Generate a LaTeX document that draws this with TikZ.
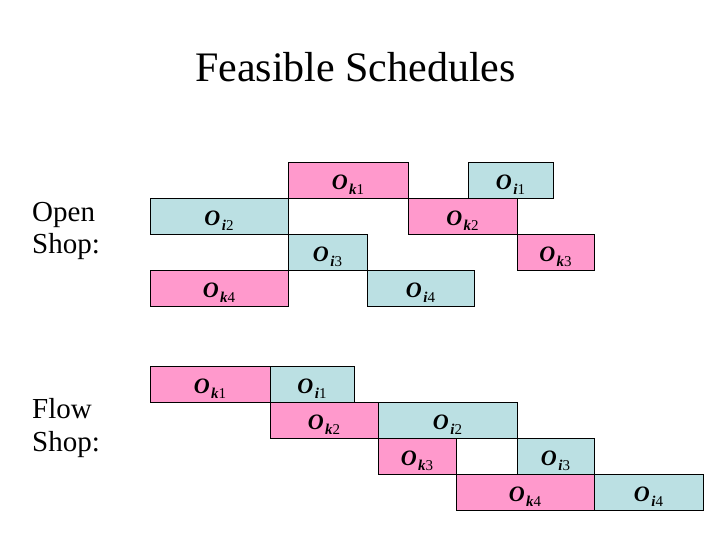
\documentclass[tikz,border=0pt]{standalone}
\usepackage{fontspec}
\setmainfont{Liberation Serif}
\definecolor{opPink}{HTML}{FF99CC}
\definecolor{opBlue}{HTML}{BBE0E3}
\newcommand\OpLbl[2]{{\fontsize{22}{22}\selectfont\bfseries\itshape O}\kern1.5pt\raisebox{-5pt}{\fontsize{15}{15}\selectfont{\bfseries\itshape #1}#2}}
\tikzset{
  opbox/.style={draw=black, line width=0.8pt, rectangle, inner sep=0pt, minimum height=36pt, text height=22pt, text depth=3pt},
  pinkbox/.style={opbox, fill=opPink},
  bluebox/.style={opbox, fill=opBlue},
  sidelabel/.style={anchor=base west, inner sep=0pt, font=\fontsize{29}{32}\selectfont}
}
\begin{document}
\begin{tikzpicture}[x=1pt, y=-1pt]
\useasboundingbox (0,0) rectangle (720,540);
\node[anchor=base, inner sep=0pt, font=\fontsize{42}{42}\selectfont] (title) at (355.5,82) {Feasible Schedules};
% side labels
\node[sidelabel] (open1) at (32,222) {Open};
\node[sidelabel] (open2) at (32,253) {Shop:};
\node[sidelabel] (flow1) at (32,418) {Flow};
\node[sidelabel] (flow2) at (32,451) {Shop:};
% open shop
\node[pinkbox, minimum width=120pt] (ok1o) at (348,180) {\OpLbl{k}{1}};
\node[bluebox, minimum width=85pt]  (oi1o) at (510.5,180) {\OpLbl{i}{1}};
\node[bluebox, minimum width=138pt] (oi2o) at (219,216) {\OpLbl{i}{2}};
\node[pinkbox, minimum width=109pt] (ok2o) at (462.5,216) {\OpLbl{k}{2}};
\node[bluebox, minimum width=79pt]  (oi3o) at (327.5,252) {\OpLbl{i}{3}};
\node[pinkbox, minimum width=77pt]  (ok3o) at (555.5,252) {\OpLbl{k}{3}};
\node[pinkbox, minimum width=138pt] (ok4o) at (219,288) {\OpLbl{k}{4}};
\node[bluebox, minimum width=107pt] (oi4o) at (420.5,288) {\OpLbl{i}{4}};
% flow shop
\node[pinkbox, minimum width=120pt] (ok1f) at (210,384) {\OpLbl{k}{1}};
\node[bluebox, minimum width=84pt]  (oi1f) at (312,384) {\OpLbl{i}{1}};
\node[pinkbox, minimum width=108pt] (ok2f) at (324,420) {\OpLbl{k}{2}};
\node[bluebox, minimum width=139pt] (oi2f) at (447.5,420) {\OpLbl{i}{2}};
\node[pinkbox, minimum width=78pt]  (ok3f) at (417,456) {\OpLbl{k}{3}};
\node[bluebox, minimum width=77pt]  (oi3f) at (555.5,456) {\OpLbl{i}{3}};
\node[pinkbox, minimum width=138pt] (ok4f) at (525,492) {\OpLbl{k}{4}};
\node[bluebox, minimum width=109pt] (oi4f) at (648.5,492) {\OpLbl{i}{4}};
\end{tikzpicture}
\end{document}
